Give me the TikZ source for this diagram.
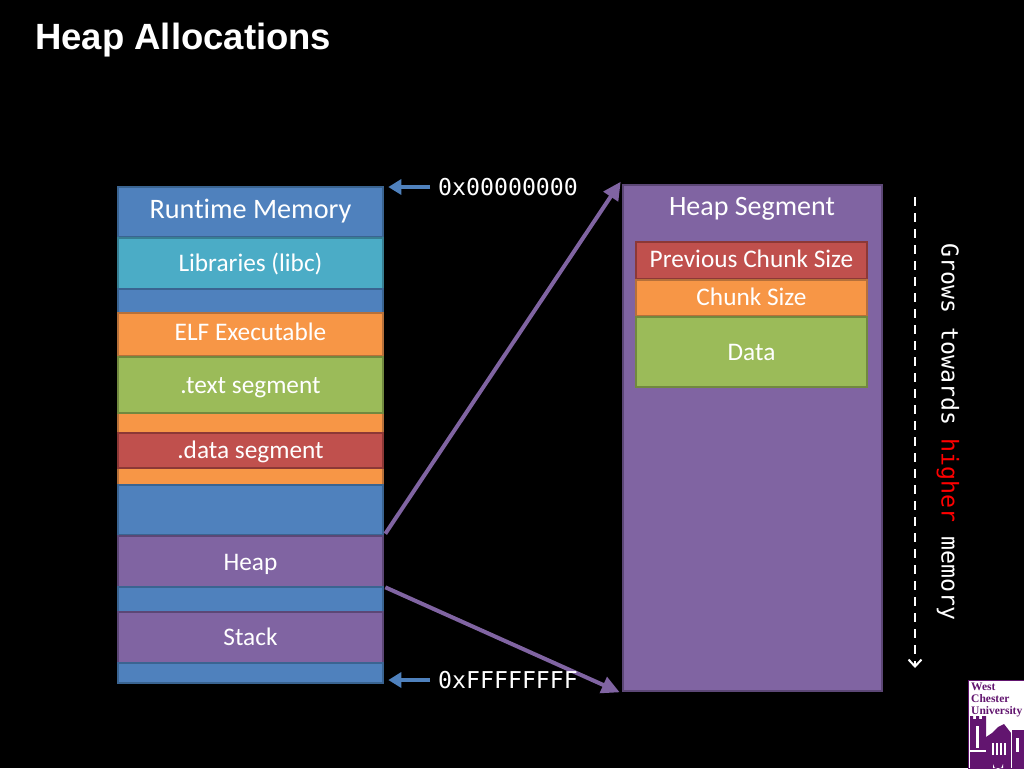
\documentclass[tikz,border=0pt]{standalone}
\usepackage{fontspec}
\setmainfont[Ligatures=NoCommon]{Carlito}
\newfontfamily\titlefont{Liberation Sans}
\newfontfamily\codefont{DejaVu Sans Mono}
\newfontfamily\logofont{Liberation Serif}
\usetikzlibrary{arrows.meta}
\definecolor{cblue}{HTML}{4F81BD}\definecolor{dblue}{HTML}{3A6491}
\definecolor{cteal}{HTML}{4BACC6}\definecolor{dteal}{HTML}{377F93}
\definecolor{corange}{HTML}{F79646}\definecolor{dorange}{HTML}{B6703A}
\definecolor{cgreen}{HTML}{9BBB59}\definecolor{dgreen}{HTML}{71893F}
\definecolor{cred}{HTML}{C0504D}\definecolor{dred}{HTML}{8C3836}
\definecolor{cpurple}{HTML}{8064A2}\definecolor{dpurple}{HTML}{5C4776}
\definecolor{logopurple}{HTML}{62156F}
\tikzset{
 x=1pt,y=-1pt,
 memblock/.style={draw,line width=2.6pt,inner sep=0pt,text=white,font=\fontsize{25.3}{28}\selectfont,align=center,text height=18pt,text depth=2pt},
 bluebox/.style={memblock,fill=cblue,draw=dblue},
 tealbox/.style={memblock,fill=cteal,draw=dteal},
 orangebox/.style={memblock,fill=corange,draw=dorange},
 greenbox/.style={memblock,fill=cgreen,draw=dgreen},
 redbox/.style={memblock,fill=cred,draw=dred},
 purplebox/.style={memblock,fill=cpurple,draw=dpurple},
 addr/.style={text=white,inner sep=0pt,font=\codefont\fontsize{23.2}{26}\selectfont},
 bluearrow/.style={draw=cblue,line width=4pt,-{Triangle[length=13pt,width=15pt]}},
 purplearrow/.style={draw=cpurple,line width=4pt,-{Triangle[length=18pt,width=17pt]}},
}
\newcommand{\blockat}[7]{\node[#1,minimum width=#4-#3,minimum height=#6-#5] (#2) at ({(#3+#4)/2},{(#5+#6)/2}) {#7};}
\begin{document}
\begin{tikzpicture}
\useasboundingbox[fill=black] (0,0) rectangle (1024,768);
\node[anchor=west,text=white,inner sep=0pt,font=\titlefont\bfseries\fontsize{36.5}{40}\selectfont] (title) at (35,40.5) {Heap Allocations};
% left column
\blockat{bluebox}{rt}{118}{383}{187}{237}{\raisebox{2pt}{\fontsize{28.2}{30}\selectfont Runtime Memory}}
\blockat{tealbox}{lib}{118}{383}{238}{289}{Libraries (libc)}
\blockat{bluebox}{gapa}{118}{383}{289}{313}{}
\blockat{orangebox}{elf}{118}{383}{313}{356}{\raisebox{2pt}{ELF Executable}}
\blockat{orangebox}{elfb}{118}{383}{413}{485}{}
\blockat{greenbox}{txt}{118}{383}{357}{413}{.text segment}
\blockat{redbox}{dat}{118}{383}{433}{468}{.data segment}
\blockat{bluebox}{gapb}{118}{383}{485}{535}{}
\blockat{purplebox}{heap}{118}{383}{536}{587}{\raisebox{-1pt}{Heap}}
\blockat{bluebox}{gapc}{118}{383}{587}{612}{}
\blockat{purplebox}{stack}{118}{383}{612}{663}{Stack}
\blockat{bluebox}{gapd}{118}{383}{664}{682}{}
% right column
\blockat{purplebox}{seg}{623}{882}{185}{691}{}
\node[text=white,inner sep=0pt,text height=18pt,text depth=2pt,font=\fontsize{28}{30}\selectfont] (segt) at (752,207) {Heap Segment};
\blockat{redbox}{prev}{636}{867}{242}{279}{\raisebox{1pt}{Previous Chunk Size}}
\blockat{orangebox}{chunk}{636}{867}{280}{316}{\raisebox{1pt}{Chunk Size}}
\blockat{greenbox}{cdata}{636}{867}{317}{387}{Data}
% heap connectors
\draw[purplearrow] ([xshift=1pt,yshift=1pt]heap.north east) -- ([xshift=-1pt,yshift=2pt]seg.north west);
\draw[purplearrow] ([xshift=1pt,yshift=1pt]heap.south east) -- ([xshift=-2pt]seg.south west);
% addresses
\node[addr,anchor=west] (lo) at (438,187) {0x00000000};
\node[addr,anchor=west] (hi) at (438,680) {0xFFFFFFFF};
\draw[bluearrow] ([xshift=-8pt]lo.west) -- ([xshift=4pt]rt.east |- lo.west);
\draw[bluearrow] ([xshift=-8pt]hi.west) -- ([xshift=4pt]gapd.east |- hi.west);
% growth
\coordinate (gs) at (915,197);
\coordinate (ge) at (915,668);
\draw[white,line width=2pt,dash pattern=on 9pt off 7pt,-{Straight Barb[length=7pt,width=13pt]}] (gs) -- (ge);
\node[rotate=-90,inner sep=0pt,text=white,font=\codefont\fontsize{23.2}{26}\selectfont] (grow) at (948,432) {Grows towards \textcolor{red}{higher} memory};
% logo
\fill[white] (968,680) rectangle (1024,768);
\draw[logopurple,line width=1pt] (968.5,680.5) rectangle (1024,768);
\node[anchor=north west,inner sep=0pt,text=logopurple,align=left,font=\logofont\bfseries\fontsize{11.5}{12}\selectfont] (logotext) at (971,683) {West\\Chester\\University};
\fill[logopurple] (970,720) -- (970,716) -- (973,716) -- (973,719) -- (976,719) -- (976,716) -- (979,716) -- (979,719) -- (982,719) -- (982,716) -- (986,716) -- (986,768) -- (970,768) -- cycle;
\fill[logopurple] (986,737) -- (992,733) -- (998,727) -- (1004,724) -- (1011,733) -- (1011,768) -- (986,768) -- cycle;
\fill[logopurple] (1011,730) rectangle (1024,768);
\fill[white] (976,726) rectangle (979,748);
\fill[white] (970,750) rectangle (986,752);
\fill[white] (992,743) rectangle (994,755);
\fill[white] (996,743) rectangle (998,755);
\fill[white] (1000,743) rectangle (1002,755);
\fill[white] (1004,743) rectangle (1006,755);
\fill[white] (993,768) -- (993,764) arc (180:0:5) -- (1003,768) -- cycle;
\fill[white] (1016,738) rectangle (1019,752);
\fill[white] (1011,729) rectangle (1012,768);
\end{tikzpicture}
\end{document}
